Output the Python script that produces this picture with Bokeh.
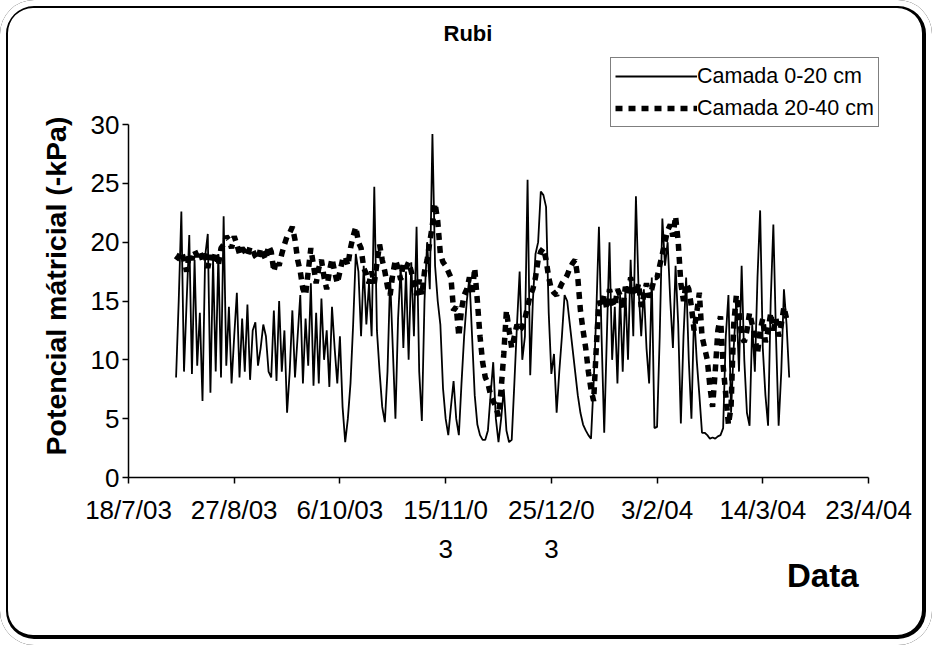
import pandas as pd
from bokeh.plotting import figure
from bokeh.models import (Range1d, FixedTicker, Legend, LegendItem, Title,
                          ColumnDataSource, InlineStyleSheet)
from bokeh.embed import file_html
from bokeh.resources import INLINE

# ---------------- data ----------------
axis_origin = "2003-07-18"
tick_dates = ["2003-07-18", "2003-08-27", "2003-10-06", "2003-11-15",
              "2003-12-25", "2004-02-03", "2004-03-14", "2004-04-23"]
tick_labels = ["18/7/03", "27/8/03", "6/10/03", "15/11/0\n3",
               "25/12/0\n3", "3/2/04", "14/3/04", "23/4/04"]
y_ticks = [0, 5, 10, 15, 20, 25, 30]

series_start = "2003-08-05"   # daily readings

camada_0_20 = [
    8.5, 15, 22.6, 9, 15, 20.6, 8.8, 18.5, 9.5, 14,
    6.5, 18.8, 20.7, 7.2, 18.5, 9, 19, 8.5, 22.2, 9.5,
    14.5, 8, 12, 15.7, 8.5, 13.5, 9, 14.7, 8.3, 12.5,
    13.2, 9.5, 11, 13, 12, 9, 8.5, 14.2, 8.2, 15,
    9, 12.5, 5.5, 9, 14.2, 8.5, 12, 15.5, 8, 13.5,
    9.5, 16.5, 7.8, 14, 8, 15.2, 10, 12.5, 7.7, 14.5,
    11, 8, 12, 6, 3, 5, 8, 13, 19, 17.5,
    12, 18, 13, 16.5, 12, 24.7, 12.5, 9, 6, 4.7,
    9, 17, 11, 5, 13.5, 18, 11, 17.5, 10, 18.3,
    12, 21.3, 9, 4.8, 15, 20, 16, 29.2, 18, 15,
    13, 7.6, 5, 3.6, 6, 8.2, 5, 3.6, 8, 12,
    15, 17, 12, 7, 4.5, 3.6, 3.2, 3.2, 4, 7,
    9.8, 5, 3, 5, 7.5, 4, 3, 3.2, 8, 13,
    17.5, 10, 12, 25.3, 8.7, 15, 19, 20, 24.3, 24,
    23, 14, 8.8, 10.5, 5.5, 9, 12, 15.5, 15, 13,
    11, 9, 7, 5.5, 4.5, 4, 3.6, 3.3, 8, 14,
    21.3, 12, 3.8, 12, 20, 10, 14.5, 8, 15.5, 9,
    16, 10, 18.5, 12, 23.9, 16, 12, 16, 11, 8,
    17, 4.2, 4.3, 12, 22, 18, 20, 15, 11, 18,
    13, 4.6, 12, 17, 10, 5, 14, 10, 7, 3.8,
    3.8, 3.6, 3.3, 3.4, 3.3, 3.5, 3.6, 4.2, 12, 15.5,
    5.5, 11, 15, 9, 18, 10, 5.5, 4.4, 13, 9,
    17, 22.7, 11, 7, 4.4, 15, 21.5, 12, 4.4, 9,
    16, 13, 8.5,
]

camada_20_40 = [
    18.5, 18.8, 19.2, 18.5, 17.5, 19, 18.5, 19.3, 18.8, 19.2,
    18.5, 19, 17.8, 18.9, 18.2, 19.2, 18, 19.5, 19.8, 20.5,
    20.2, 19.5, 20.5, 19.8, 19, 19.5, 19.2, 18.8, 19.6, 19.3,
    18.8, 18.5, 19.5, 19, 18.5, 19.7, 19.2, 17.5, 18.5, 18,
    19, 19.8, 20.5, 20.8, 21.3, 20.2, 18.5, 17.5, 16, 15.5,
    17.5, 19.5, 18, 16.5, 17.8, 18.5, 17, 16, 17.5, 18.6,
    17.5, 16.5, 17.5, 18.5, 18.8, 18, 19.5, 20.5, 21.3, 20,
    19.5, 17.8, 17.3, 16.5, 17.5, 16.5, 18.2, 19.8, 18.5, 17.5,
    16.2, 15.5, 17.3, 18.5, 17.8, 16.8, 18.2, 17.8, 18.3, 17.5,
    16.5, 15.5, 16.8, 15.5, 17.5, 18.5, 20, 21.5, 23.3, 21.8,
    19, 18.3, 18, 17.5, 17, 14.2, 14.5, 12, 14.3, 15.5,
    16, 17, 15.5, 17.8, 15, 12, 9.8, 8.5, 8, 7,
    6.5, 6, 5.2, 7.5, 10.5, 14.2, 12.5, 11, 12, 13,
    12.5, 12.8, 13.5, 14.5, 15.5, 16, 17, 18.5, 19.2, 19.5,
    18.5, 17, 16, 15.7, 15.5, 16, 16.5, 16.8, 17.2, 17.8,
    18.2, 18.5, 17, 14.2, 12.5, 11, 9, 7.5, 6.5, 11,
    15, 14.5, 15.5, 14.3, 16, 15, 14.5, 16, 15.5, 14.3,
    16.2, 15.6, 17, 16, 15.5, 16.5, 14.5, 15.5, 16.5, 15.3,
    16, 17, 17, 18, 19, 20, 21, 21.5, 20.5, 22.2,
    20, 16.5, 15, 16.5, 16, 14.5, 12.5, 14, 15.7, 12,
    11, 10, 7.7, 6, 9, 12.5, 13.7, 9.5, 7, 4.5,
    6, 13, 15.5, 14, 12, 11.5, 12.5, 14, 13, 12,
    10.5, 12.5, 13.5, 11.5, 12.5, 14, 12.5, 13.5, 12, 13,
    14.5, 13.5,
]

# ---------------- derived ----------------
origin = pd.Timestamp(axis_origin)


def day_offsets(n):
    dates = pd.date_range(series_start, periods=n, freq="D")
    return [(d - origin).days for d in dates]


src1 = ColumnDataSource(dict(x=day_offsets(len(camada_0_20)), y=camada_0_20))
src2 = ColumnDataSource(dict(x=day_offsets(len(camada_20_40)), y=camada_20_40))
tick_pos = [(pd.Timestamp(t) - origin).days for t in tick_dates]

FONT = "Liberation Sans"

# frame: x 128..884 px, y 56..477 px ; axes drawn only over 0..280 days / 0..30
X_END = tick_pos[-1] * (884 - 128) / (868 - 128)
Y_END = 30 * (477 - 56) / (477 - 124)

p = figure(width=932, height=645, output_backend="svg", toolbar_location=None,
           x_range=Range1d(tick_pos[0], X_END),
           y_range=Range1d(0, Y_END),
           min_border_left=128, min_border_right=48,
           min_border_top=56, min_border_bottom=168)
p.background_fill_color = "white"
p.border_fill_color = None          # transparent, so the rounded frame shows
p.outline_line_color = None
p.grid.visible = False
p.stylesheets = [InlineStyleSheet(css=(
    ":host { background: #fff; border-radius: 34px; "
    "box-shadow: inset 0 0 0 6px #fff, inset -1px -1px 0 9px #000; }"))]

r2 = p.line("x", "y", source=src2, line_color="black", line_width=5.5,
            line_dash="7 6", line_cap="butt")
r1 = p.line("x", "y", source=src1, line_color="black", line_width=1.8)

# axes
for ax in (p.xaxis[0], p.yaxis[0]):
    ax.axis_line_width = 1.5
    ax.axis_line_color = "black"
    ax.major_tick_line_color = "black"
    ax.major_tick_line_width = 1.5
    ax.major_tick_in = 0
    ax.major_tick_out = 6
    ax.minor_tick_line_color = None
    ax.major_label_text_font = FONT
    ax.major_label_text_color = "black"

p.xaxis.bounds = (tick_pos[0], tick_pos[-1])
p.xaxis.ticker = FixedTicker(ticks=tick_pos)
p.xaxis.major_label_overrides = {t: l for t, l in zip(tick_pos, tick_labels)}
p.xaxis.major_label_text_font_size = "26px"
p.xaxis.major_label_text_line_height = 1.3
p.xaxis.major_label_standoff = 11

p.yaxis.bounds = (0, 30)
p.yaxis.ticker = FixedTicker(ticks=y_ticks)
p.yaxis.major_label_text_font_size = "26px"
p.yaxis.major_label_standoff = 3

# y-axis title, aligned to the lower part of the frame (beside 0..30)
p.add_layout(Title(text="Potencial mátricial (-kPa)", align="left", offset=22,
                   text_font=FONT, text_font_style="bold",
                   text_font_size="28.5px", text_color="black", standoff=32),
             "left")

# legend
legend = Legend(items=[LegendItem(label="Camada 0-20 cm", renderers=[r1]),
                       LegendItem(label="Camada 20-40 cm", renderers=[r2])],
                location=(482, 350), orientation="vertical",
                label_text_font=FONT, label_text_font_size="21.5px",
                label_text_color="black",
                glyph_width=82, glyph_height=28, label_standoff=0,
                padding=4, spacing=4, margin=0,
                border_line_color="black", border_line_width=1.5,
                background_fill_color="white", background_fill_alpha=1)
p.add_layout(legend, "center")

# title
p.title.text = "Rubi"
p.title.align = "left"
p.title.offset = 315
p.title.standoff = 22
p.title.text_font = FONT
p.title.text_font_style = "bold"
p.title.text_font_size = "22px"
p.title.text_color = "black"

# x label "Data" bottom right
p.add_layout(Title(text="Data", align="right", offset=26, text_font=FONT,
                   text_font_style="bold", text_font_size="33px",
                   text_color="black", vertical_align="top", standoff=-20),
             "below")

open("out.html", "w").write(file_html(p, INLINE))
